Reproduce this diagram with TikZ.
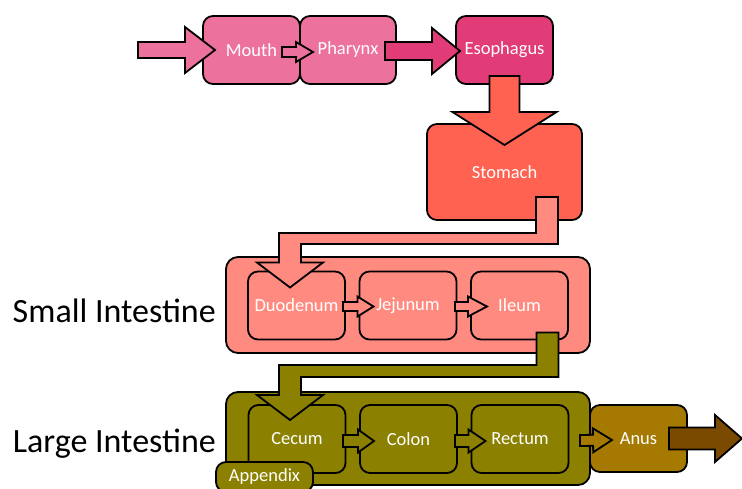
\documentclass[tikz,border=0pt]{standalone}
\usepackage{fontspec}
\setmainfont{Carlito}
\usetikzlibrary{positioning,calc}
\definecolor{mouthpink}{RGB}{237,113,157}
\definecolor{esophpink}{RGB}{226,60,120}
\definecolor{stomachred}{RGB}{255,98,80}
\definecolor{smallsalmon}{RGB}{255,138,128}
\definecolor{largeolive}{RGB}{139,128,0}
\definecolor{anusgold}{RGB}{166,122,0}
\definecolor{exitbrown}{RGB}{122,74,0}
\tikzset{
    organ/.style={draw, line width=1.8pt, rounded corners=10pt, text=white, font=\fontsize{18.5}{20}\selectfont, minimum width=97pt, minimum height=68pt, inner sep=0pt, outer sep=0pt},
    tract/.style={draw, line width=1.8pt, rounded corners=12pt, minimum width=364pt, minimum height=96pt, outer sep=0pt},
    tractlabel/.style={font=\fontsize{34}{38}\selectfont, inner sep=0pt},
    arrowline/.style={draw=black, line width=1.8pt, line join=miter}
}
% straight block arrow: fill, start, tip, shaft half width, head half width, head length
\newcommand{\blockarrow}[6]{%
    \coordinate (hb) at ($(#3)!#6!(#2)$);
    \filldraw[arrowline, fill=#1] ($(#2)!#4!90:(#3)$) -- ($(hb)!#4!90:(#3)$) -- ($(hb)!#5!90:(#3)$) -- (#3)
        -- ($(hb)!#5!-90:(#3)$) -- ($(hb)!#4!-90:(#3)$) -- ($(#2)!#4!-90:(#3)$) -- cycle;
}
% bent block arrow: fill, start, tip, band coordinate, band half width
\newcommand{\elbowarrow}[5]{%
    \filldraw[arrowline, fill=#1] ($(#2)+(-11,0)$) -- ($(#2)+(11,0)$) -- ($(#2|-#4)+(11,#5)$) -- ($(#3|-#4)+(11,#5)$)
        -- ($(#3)+(11,-25)$) -- ($(#3)+(33,-25)$) -- (#3) -- ($(#3)+(-33,-25)$) -- ($(#3)+(-11,-25)$)
        -- ($(#3|-#4)+(-11,-#5)$) -- ($(#2|-#4)+(-11,-#5)$) -- cycle;
}
\begin{document}
\begin{tikzpicture}[x=1pt, y=-1pt]
    \useasboundingbox (0,0) rectangle (742,488);

    % sections
    \node[tract, fill=smallsalmon] (smallint) at (408,305) {};
    \node[tract, fill=largeolive, minimum height=93pt] (largeint) at (408,438.5) {};
    \node[tractlabel, anchor=base east] (smalllabel) at (216,322) {Small Intestine};
    \node[tractlabel, anchor=base east] (largelabel) at (216,452) {Large Intestine};

    % organs
    \node[organ, fill=mouthpink] (mouth) at (251.5,50) {Mouth};
    \node[organ, fill=mouthpink, right=0pt of mouth, minimum width=96pt] (pharynx) {Pharynx};
    \node[organ, fill=esophpink, right=60pt of pharynx] (esophagus) {Esophagus};
    \node[organ, fill=stomachred, below=40pt of esophagus, minimum width=155pt, minimum height=96pt] (stomach) {Stomach};
    \node[organ, fill=smallsalmon] (duodenum) at (296.5,305.5) {Duodenum};
    \node[organ, fill=smallsalmon, right=14.5pt of duodenum] (jejunum) {Jejunum};
    \node[organ, fill=smallsalmon, right=14.5pt of jejunum] (ileum) {Ileum};
    \node[organ, fill=largeolive] (cecum) at (297,439) {Cecum};
    \node[organ, fill=largeolive, right=14.5pt of cecum] (colon) {Colon};
    \node[organ, fill=largeolive, right=14.5pt of colon] (rectum) {Rectum};
    \node[organ, fill=anusgold, right=0pt of largeint, minimum height=67pt] (anus) {Anus};

    % arrow ends
    \coordinate (in0) at ($(mouth.west)+(-65,0)$);
    \coordinate (in1) at ($(mouth.west)+(12,0)$);
    \coordinate (mp0) at ($(mouth.east)+(-18,2)$);
    \coordinate (mp1) at ($(pharynx.west)+(13,2)$);
    \coordinate (pe0) at ($(pharynx.east)+(-11,1)$);
    \coordinate (pe1) at ($(esophagus.west)+(4,1)$);
    \coordinate (es0) at ($(esophagus.south)+(0,-8)$);
    \coordinate (es1) at ($(stomach.north)+(0,21)$);
    \coordinate (sd0) at ($(stomach.south east)+(-35,-23)$);
    \coordinate (sd1) at ($(duodenum.north)+(-6.5,16)$);
    \coordinate (sdm) at ($(smallint.north)+(0,-18.5)$);
    \coordinate (dj0) at ($(duodenum.east)+(-2,1)$);
    \coordinate (dj1) at ($(jejunum.west)+(14,1)$);
    \coordinate (ji0) at ($(jejunum.east)+(-1.5,1)$);
    \coordinate (ji1) at ($(ileum.west)+(16,1)$);
    \coordinate (ic0) at ($(ileum.south east)+(-20.5,-7)$);
    \coordinate (ic1) at ($(cecum.north)+(-7,15)$);
    \coordinate (icm) at ($(largeint.north)+(0,-21)$);
    \coordinate (cc0) at ($(cecum.east)+(-2.5,2)$);
    \coordinate (cc1) at ($(colon.west)+(14,2)$);
    \coordinate (cr0) at ($(colon.east)+(-2,2)$);
    \coordinate (cr1) at ($(rectum.west)+(14,2)$);
    \coordinate (ra0) at ($(rectum.east)+(11.5,1.5)$);
    \coordinate (ra1) at ($(anus.west)+(22,1.5)$);
    \coordinate (ax0) at ($(anus.east)+(-18,0)$);
    \coordinate (ax1) at ($(anus.east)+(55,0)$);

    % arrows
    \blockarrow{mouthpink}{in0}{in1}{8pt}{23pt}{30pt}
    \blockarrow{mouthpink}{mp0}{mp1}{5pt}{10pt}{17pt}
    \blockarrow{esophpink}{pe0}{pe1}{9pt}{23pt}{28pt}
    \blockarrow{stomachred}{es0}{es1}{15pt}{52pt}{33pt}
    \elbowarrow{smallsalmon}{sd0}{sd1}{sdm}{5.5}
    \blockarrow{smallsalmon}{dj0}{dj1}{4.5pt}{10pt}{16pt}
    \blockarrow{smallsalmon}{ji0}{ji1}{4.5pt}{10pt}{19pt}
    \elbowarrow{largeolive}{ic0}{ic1}{icm}{6}
    \blockarrow{largeolive}{cc0}{cc1}{6pt}{11.5pt}{16pt}
    \blockarrow{largeolive}{cr0}{cr1}{6pt}{11.5pt}{17pt}
    \blockarrow{anusgold}{ra0}{ra1}{5.5pt}{12pt}{19pt}
    \blockarrow{exitbrown}{ax0}{ax1}{11pt}{23.5pt}{27pt}

    \node[organ, fill=largeolive, minimum height=30pt] (appendix) at (264.5,477) {Appendix};
\end{tikzpicture}
\end{document}
